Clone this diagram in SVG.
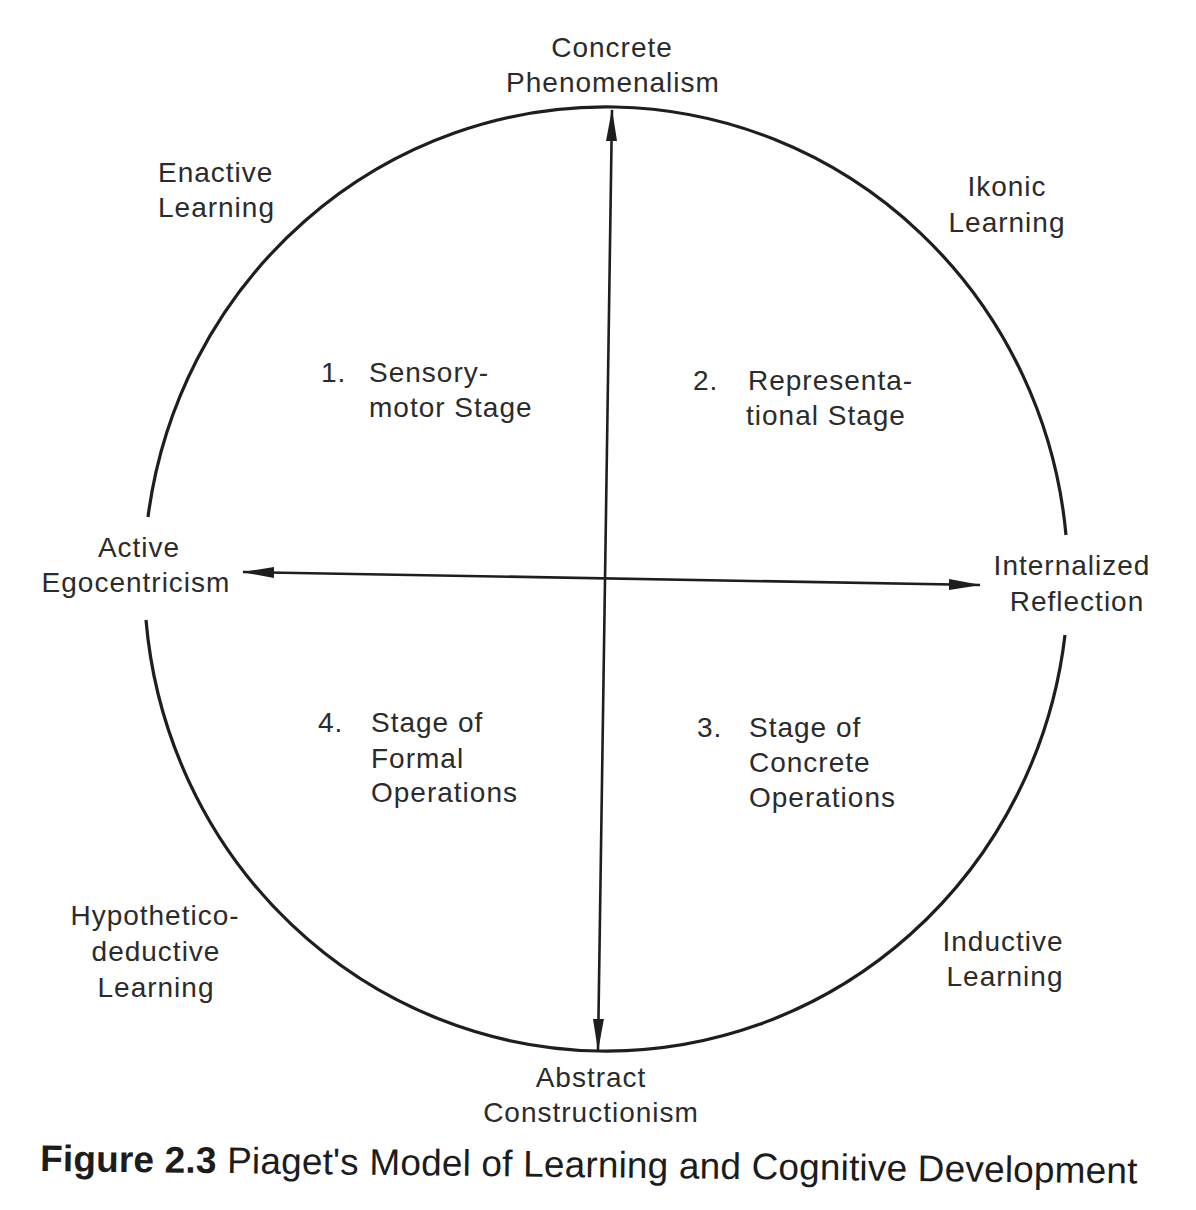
<svg xmlns="http://www.w3.org/2000/svg" width="1196" height="1210" viewBox="0 0 1196 1210">
  <style>
    .lbl { font-family: "Liberation Sans", Arial, sans-serif; font-size: 28px; letter-spacing: 1px; fill: #2b2b2b; }
    .mid { text-anchor: middle; }
    .cap { font-family: "Liberation Sans", Arial, sans-serif; font-size: 37px; letter-spacing: 0.17px; fill: #1c1c1c; }
    .ring { fill: none; stroke: #1e1e1e; stroke-width: 3.2; }
    .axis { stroke: #1e1e1e; stroke-width: 2.6; fill: none; marker-start: url(#arr); marker-end: url(#arr); }
  </style>
  <defs>
    <marker id="arr" markerUnits="userSpaceOnUse" viewBox="0 0 32 14" markerWidth="32" markerHeight="14" refX="31" refY="7" orient="auto-start-reverse">
      <path d="M0,1.5 L32,7 L0,12.5 z" fill="#1e1e1e"/>
    </marker>
  </defs>
  <rect width="1196" height="1210" fill="#ffffff"/>

  <g id="circle">
    <path class="ring" d="M 148 517 A 462 472 0 0 1 1066 535"/>
    <path class="ring" d="M 1065 635 A 462 472 0 0 1 146 620"/>
  </g>

  <g id="connectors">
    <line class="axis" x1="598" y1="1050" x2="612" y2="110"/>
    <line class="axis" x1="980" y1="585" x2="243" y2="572"/>
  </g>

  <g id="concrete-phenomenalism">
    <text class="lbl mid" x="612" y="57">Concrete</text>
    <text class="lbl mid" x="613" y="92">Phenomenalism</text>
  </g>
  <g id="enactive-learning">
    <text class="lbl" x="158" y="182">Enactive</text>
    <text class="lbl" x="158" y="217">Learning</text>
  </g>
  <g id="ikonic-learning">
    <text class="lbl mid" x="1007" y="196">Ikonic</text>
    <text class="lbl mid" x="1007" y="232">Learning</text>
  </g>
  <g id="stage-1">
    <text class="lbl" x="321" y="382">1.</text>
    <text class="lbl" x="369" y="382">Sensory-</text>
    <text class="lbl" x="369" y="417">motor Stage</text>
  </g>
  <g id="stage-2">
    <text class="lbl" x="693" y="390">2.</text>
    <text class="lbl" x="748" y="390">Representa-</text>
    <text class="lbl" x="746" y="425">tional Stage</text>
  </g>
  <g id="active-egocentricism">
    <text class="lbl mid" x="139" y="557">Active</text>
    <text class="lbl mid" x="136" y="592">Egocentricism</text>
  </g>
  <g id="internalized-reflection">
    <text class="lbl mid" x="1072" y="575">Internalized</text>
    <text class="lbl mid" x="1077" y="611">Reflection</text>
  </g>
  <g id="stage-4">
    <text class="lbl" x="318" y="732">4.</text>
    <text class="lbl" x="371" y="732">Stage of</text>
    <text class="lbl" x="371" y="768">Formal</text>
    <text class="lbl" x="371" y="802">Operations</text>
  </g>
  <g id="stage-3">
    <text class="lbl" x="697" y="737">3.</text>
    <text class="lbl" x="749" y="737">Stage of</text>
    <text class="lbl" x="749" y="772">Concrete</text>
    <text class="lbl" x="749" y="807">Operations</text>
  </g>
  <g id="hypothetico-deductive-learning">
    <text class="lbl mid" x="155" y="925">Hypothetico-</text>
    <text class="lbl mid" x="156" y="961">deductive</text>
    <text class="lbl mid" x="156" y="997">Learning</text>
  </g>
  <g id="inductive-learning">
    <text class="lbl mid" x="1003" y="951">Inductive</text>
    <text class="lbl mid" x="1005" y="986">Learning</text>
  </g>
  <g id="abstract-constructionism">
    <text class="lbl mid" x="591" y="1087">Abstract</text>
    <text class="lbl mid" x="591" y="1122">Constructionism</text>
  </g>

  <g id="caption">
    <text class="cap" x="40" y="1171" transform="rotate(0.65 40 1171)"><tspan font-weight="bold">Figure 2.3</tspan> Piaget's Model of Learning and Cognitive Development</text>
  </g>
</svg>
